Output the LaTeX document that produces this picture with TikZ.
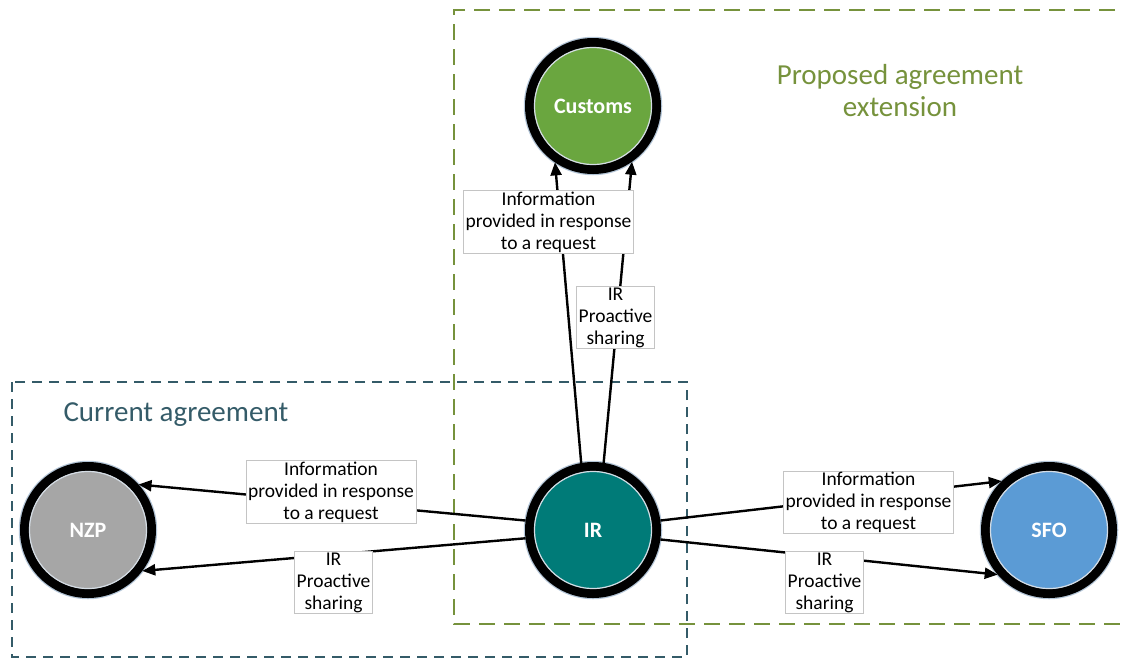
\documentclass[tikz,border=0pt]{standalone}
\usepackage{fontspec}
\setmainfont{Carlito}
\usetikzlibrary{arrows.meta}

\definecolor{customsgreen}{HTML}{6AA63F}
\definecolor{irteal}{HTML}{007B78}
\definecolor{nzpgrey}{HTML}{A6A6A6}
\definecolor{sfoblue}{HTML}{5B9BD5}
\definecolor{propgreen}{HTML}{76923C}
\definecolor{curslate}{HTML}{345B68}
\definecolor{boxedge}{HTML}{C4C4C4}
\definecolor{ringhalo}{HTML}{B4C6D8}
\definecolor{ringinner}{HTML}{D4DCE4}

\tikzset{
  agency/.style={circle, minimum size=127pt, inner sep=0pt, line width=9pt,
    draw=black, fill=#1, text=white,
    font=\fontsize{22}{26}\selectfont\bfseries},
  halo/.style={draw=ringhalo, line width=1.5pt},
  innerring/.style={draw=ringinner, line width=1.2pt},
  flowlabel/.style={draw=boxedge, line width=0.9pt, fill=white, align=center,
    inner xsep=2pt, inner ysep=1pt,
    font=\fontsize{19.5}{22}\selectfont},
  flow/.style={line width=2.4pt, -{Triangle[length=13pt,width=11pt]}},
  proposedbox/.style={draw=propgreen, line width=2.4pt, dash pattern=on 16pt off 9pt},
  currentbox/.style={draw=curslate, line width=1.8pt, dash pattern=on 10pt off 7pt},
  boxtitle/.style={align=center, font=\fontsize{29}{32}\selectfont}
}

\begin{document}
\begin{tikzpicture}[x=1pt, y=-1pt]
  \useasboundingbox (0,0) rectangle (1123,659);

  % agreement regions
  \draw[proposedbox] (1140,10) -- (454,10) -- (454,624) -- (1140,624);
  \draw[currentbox] (12,382) rectangle (687,657);
  \node[boxtitle, text=propgreen] (proposedtitle) at (900,91) {Proposed agreement\\extension};
  \node[boxtitle, text=curslate, anchor=west] (currenttitle) at (60,415) {Current agreement};

  % halos around agency circles
  \foreach \c in {(593,106),(593,530),(88,530),(1049,530)}
    \draw[halo] \c circle (68.5);

  % agencies
  \node[agency=customsgreen] (customs) at (593,106) {Customs};
  \node[agency=irteal]       (ir)      at (593,530) {IR};
  \node[agency=nzpgrey]      (nzp)     at (88,530)  {NZP};
  \node[agency=sfoblue]      (sfo)     at (1049,530) {SFO};

  \foreach \n in {customs,ir,nzp,sfo}
    \draw[innerring] (\n.center) circle (58.5);

  % information flows
  \draw[flow] (ir.100) -- (customs.236);
  \draw[flow] (ir.81)  -- (customs.-55);
  \draw[flow] (ir.172) -- (nzp.42);
  \draw[flow] (ir.187) -- (nzp.-37);
  \draw[flow] (ir.8)   -- (sfo.134);
  \draw[flow] (ir.-8)  -- (sfo.-139);

  % flow labels
  \node[flowlabel] (reqcustoms) at (548.5,222) {Information\\provided in response\\to a request};
  \node[flowlabel] (procustoms) at (615.5,317.5) {IR\\Proactive\\sharing};
  \node[flowlabel] (reqnzp) at (331,492) {Information\\provided in response\\to a request};
  \node[flowlabel] (pronzp) at (333.5,582.5) {IR\\Proactive\\sharing};
  \node[flowlabel] (reqsfo) at (868.5,502.5) {Information\\provided in response\\to a request};
  \node[flowlabel] (prosfo) at (824.5,582.5) {IR\\Proactive\\sharing};
\end{tikzpicture}
\end{document}
